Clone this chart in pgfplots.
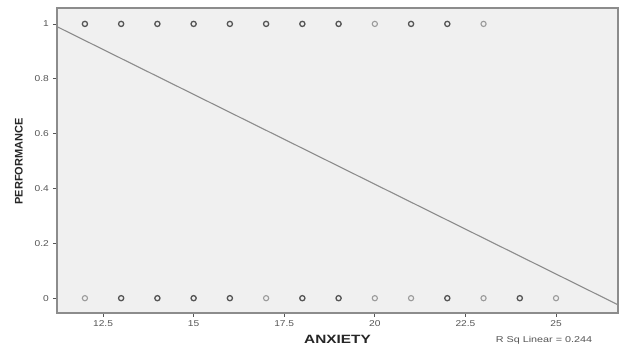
\documentclass[border=0pt]{standalone}
\usepackage{pgfplots}
\pgfplotsset{compat=1.18}
\usepackage{fontspec}
\setmainfont{Liberation Sans}
\definecolor{bgc}{HTML}{F0F0F0}
\definecolor{framec}{HTML}{8C8C8C}
\definecolor{darkm}{HTML}{555555}
\definecolor{lightm}{HTML}{9A9A9A}
\begin{document}
\begin{tikzpicture}[x=1pt,y=1pt]
\path[use as bounding box] (-57,-37) rectangle (569,313);
\begin{axis}[
  at={(0,0)}, anchor=south west,
  scale only axis, width=561pt, height=305pt,
  xmin=11.23, xmax=26.71, ymin=-0.054, ymax=1.058,
  axis background/.style={fill=bgc},
  axis line style={framec, line width=1.3pt},
  xtick={12.5,15,17.5,20,22.5,25},
  ytick={0,0.2,0.4,0.6,0.8,1},
  yticklabels={0,0.2,0.4,0.6,0.8,1},
  xticklabels={12.5,15,17.5,20,22.5,25},
  tick align=outside, tick pos=left,
  major tick length=4pt,
  tick style={darkm, line width=0.8pt},
  ticklabel style={font=\fontsize{8.5}{9}\selectfont, text=darkm, xscale=1.2},
  clip=false,
]
\addplot[only marks, mark=o, mark size=2.6pt, mark options={line width=1.3pt, darkm}] coordinates {
(12,1)(13,1)(14,1)(15,1)(16,1)(17,1)(18,1)(19,1)(21,1)(22,1)
(13,0)(14,0)(15,0)(16,0)(18,0)(19,0)(22,0)(24,0)
};
\addplot[only marks, mark=o, mark size=2.6pt, mark options={line width=1.1pt, lightm}] coordinates {
(20,1)(23,1)
(12,0)(17,0)(20,0)(21,0)(23,0)(25,0)
};
\addplot[framec, line width=1.1pt, no marks] coordinates {(11.23,0.99)(26.71,-0.024)};
\node[font=\bfseries\fontsize{12}{13}\selectfont, text=black!85, xscale=1.28] at (axis description cs:0.5,-0.088) {ANXIETY};
\node[font=\bfseries\fontsize{11}{12}\selectfont, text=black!85, rotate=90] at (axis description cs:-0.068,0.497) {PERFORMANCE};
\node[font=\fontsize{8.5}{9}\selectfont, text=darkm, xscale=1.27] at (axis description cs:0.868,-0.088) {R Sq Linear = 0.244};
\end{axis}
\end{tikzpicture}
\end{document}
